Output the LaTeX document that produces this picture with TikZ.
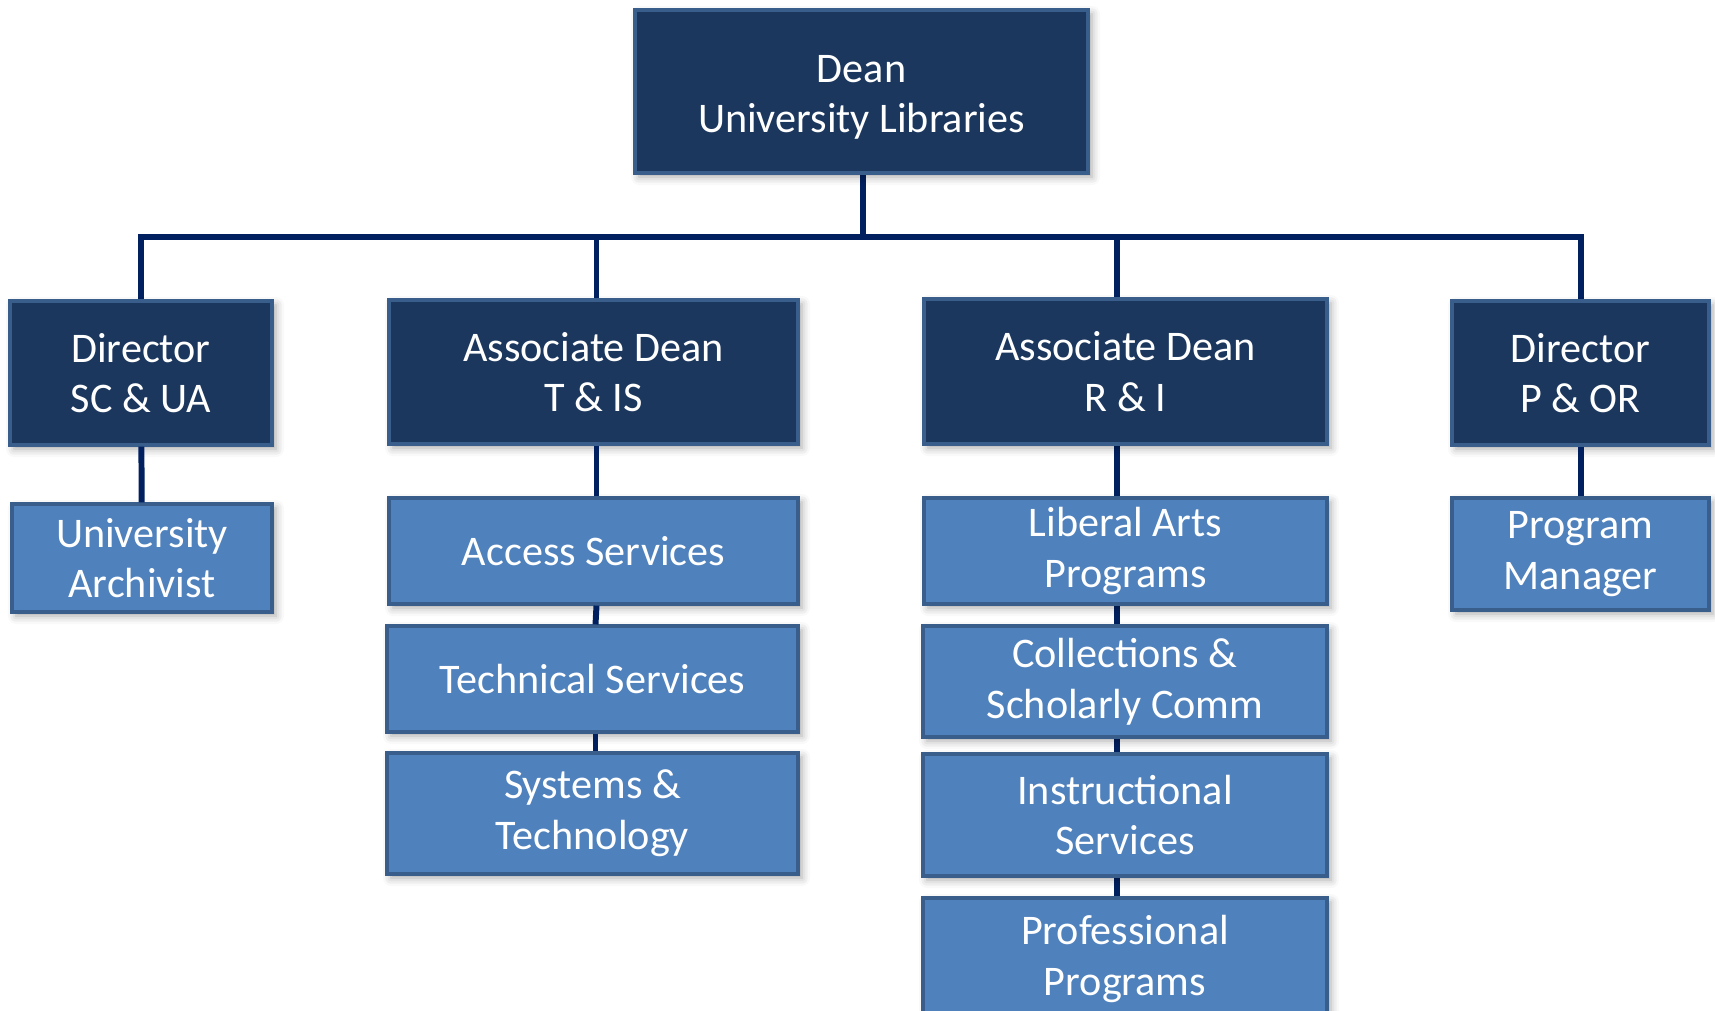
\documentclass[tikz,border=0pt]{standalone}
\usepackage{fontspec}
\setmainfont{Carlito}
\usetikzlibrary{shadows.blur,backgrounds}

\begin{document}
\begin{tikzpicture}[
  chief/.style={draw=boxline, line width=0.9pt, fill=navybox, text=white, align=center,
    inner sep=0pt, font=\fontsize{12}{14.4}\selectfont,
    blur shadow={shadow xshift=0.04cm, shadow yshift=-0.04cm, shadow blur radius=0.08cm, shadow opacity=35}},
  unit/.style={chief, fill=unitblue},
  link/.style={draw=linkblue, line width=1.7pt}
]

\definecolor{navybox}{RGB}{27, 55, 94}
\definecolor{unitblue}{RGB}{79, 129, 189}
\definecolor{boxline}{RGB}{58, 94, 140}
\definecolor{linkblue}{RGB}{0, 32, 96}

\useasboundingbox (0,0) rectangle (17.15,-10.10);

% Draw the dean
\node[chief, minimum width=4.53cm, minimum height=1.63cm] (dean) at (8.615,-0.915) {\\[-0.6ex]Dean\\University Libraries};

% Draw the second level
\node[chief, minimum width=2.62cm, minimum height=1.44cm] (dirsc) at (1.41,-3.73) {Director\\SC \& UA};
\node[chief, minimum width=4.09cm, minimum height=1.44cm] (adtis) at (5.935,-3.72) {Associate Dean\\T \& IS};
\node[chief, minimum width=4.03cm, minimum height=1.45cm] (adri) at (11.255,-3.715) {Associate Dean\\R \& I};
\node[chief, minimum width=2.57cm, minimum height=1.44cm] (dirpor) at (15.805,-3.73) {Director\\P \& OR};

% Draw the units
\node[unit, minimum width=2.60cm, minimum height=1.08cm] (archivist) at (1.42,-5.58) {University\\Archivist};

\node[unit, minimum width=4.09cm, minimum height=1.06cm] (access) at (5.935,-5.51) {Access Services};
\node[unit, minimum width=4.11cm, minimum height=1.06cm] (technical) at (5.925,-6.79) {Technical Services};
\node[unit, minimum width=4.11cm, minimum height=1.21cm] (systems) at (5.925,-8.135) {Systems \&\\Technology};

\node[unit, minimum width=4.03cm, minimum height=1.06cm] (liberal) at (11.255,-5.51) {Liberal Arts\\Programs};
\node[unit, minimum width=4.04cm, minimum height=1.11cm] (collections) at (11.25,-6.815) {Collections \&\\Scholarly Comm};
\node[unit, minimum width=4.04cm, minimum height=1.22cm] (instruction) at (11.25,-8.15) {Instructional\\Services};
\node[unit, minimum width=4.04cm, minimum height=1.22cm] (professional) at (11.25,-9.59) {Professional\\Programs};

\node[unit, minimum width=2.57cm, minimum height=1.12cm] (manager) at (15.805,-5.54) {Program\\Manager};

% Draw the connectors
\coordinate (bar) at (8.63,-2.37);
\coordinate (ricol) at (11.17,-2.37); % R & I column line
\begin{scope}[on background layer]
\draw[link] (dean.south -| bar) -- (bar);
\draw[link] (dirsc.north) |- (bar) -| (dirpor.north);
\draw[link] ([xshift=0.03cm]adtis.north) -- ([xshift=0.03cm]adtis.north |- bar);
\draw[link] (ricol) -- (ricol |- professional.south);
\end{scope}

\draw[link] (dirsc) -- (archivist);
\draw[link] ([xshift=0.03cm]adtis.south) -- ([xshift=0.03cm]access.north);
\draw[link] ([xshift=0.03cm]access.south) -- ([xshift=0.03cm]technical.north);
\draw[link] ([xshift=0.03cm]technical.south) -- ([xshift=0.03cm]systems.north);
\draw[link] (dirpor) -- (manager);

\end{tikzpicture}
\end{document}
